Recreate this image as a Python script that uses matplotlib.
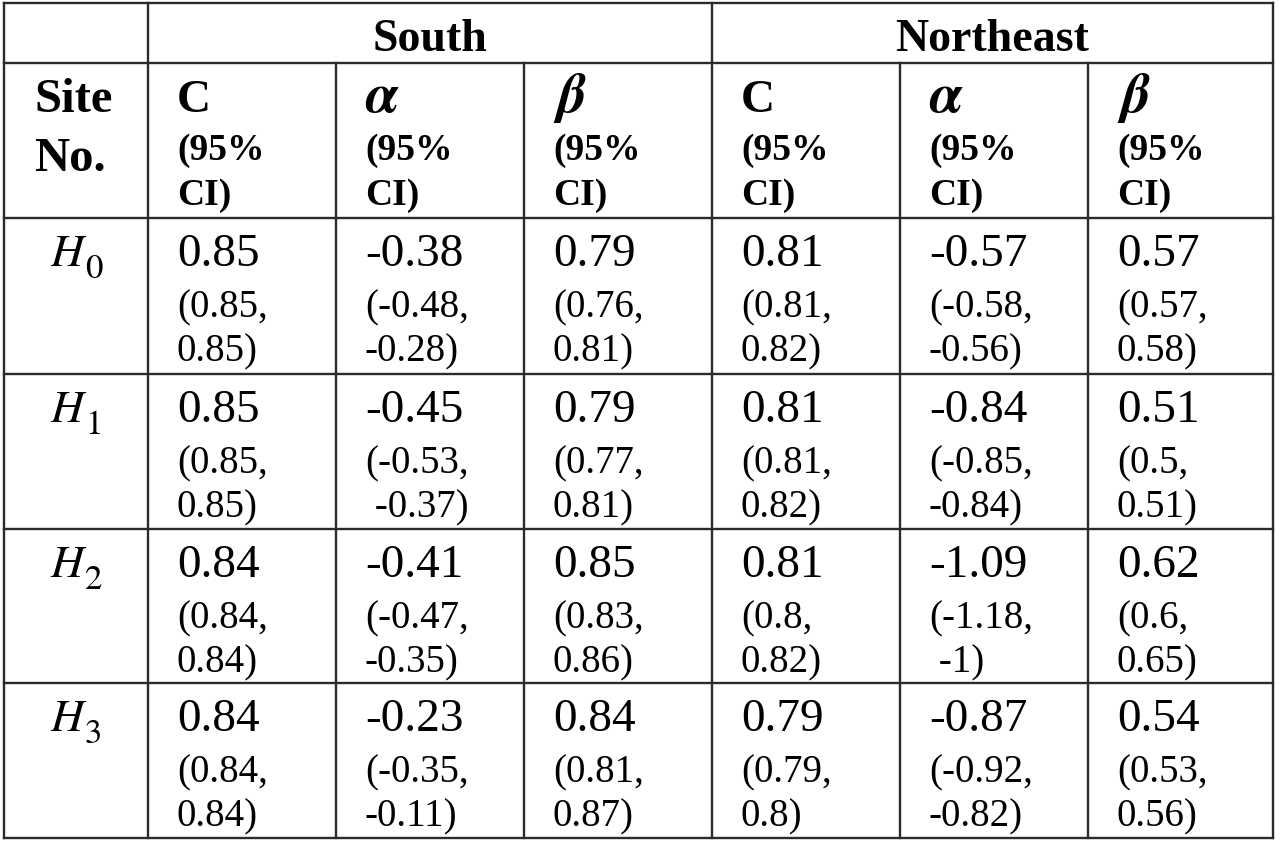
import matplotlib.pyplot as plt

plt.rcParams['font.family'] = ['Liberation Serif', 'DejaVu Serif']
plt.rcParams['mathtext.fontset'] = 'stix'

# data
regions = ['South', 'Northeast']
params = ['C', r'$\boldsymbol{\alpha}$', r'$\boldsymbol{\beta}$']
param_size = [34, 41, 41]
site_letter = 'H'
site_index = ['0', '1', '2', '3']

# per site: [C, alpha, beta] for South then Northeast
estimates = [
    [0.85, -0.38, 0.79, 0.81, -0.57, 0.57],
    [0.85, -0.45, 0.79, 0.81, -0.84, 0.51],
    [0.84, -0.41, 0.85, 0.81, -1.09, 0.62],
    [0.84, -0.23, 0.84, 0.79, -0.87, 0.54],
]
ci_low = [
    [0.85, -0.48, 0.76, 0.81, -0.58, 0.57],
    [0.85, -0.53, 0.77, 0.81, -0.85, 0.5],
    [0.84, -0.47, 0.83, 0.8, -1.18, 0.6],
    [0.84, -0.35, 0.81, 0.79, -0.92, 0.53],
]
ci_high = [
    [0.85, -0.28, 0.81, 0.82, -0.56, 0.58],
    [0.85, -0.37, 0.81, 0.82, -0.84, 0.51],
    [0.84, -0.35, 0.86, 0.82, -1, 0.65],
    [0.84, -0.11, 0.87, 0.8, -0.82, 0.56],
]
# a couple of upper bounds are indented by a space in the original
indent_high = {(1, 1), (2, 4)}

# layout in pixels
col_edges = [4, 148, 336, 524, 712, 900, 1088, 1273]
row_edges = [3, 63, 218, 374, 529, 683, 838]
pad = 29
line_col = '#2b2b2b'
lw = 1.7

fig = plt.figure(figsize=(12.8, 8.44), dpi=100)
ax = fig.add_axes([0, 0, 1, 1])
ax.set_xlim(0, 1280)
ax.set_ylim(844, 0)
ax.axis('off')

# grid lines
top, bot = row_edges[0], row_edges[-1]
for i, x in enumerate(col_edges):
    y0 = top if i in (0, 1, 4, 7) else row_edges[1]
    ax.plot([x, x], [y0, bot], color=line_col, lw=lw, solid_capstyle='projecting')
for y in row_edges:
    ax.plot([col_edges[0], col_edges[-1]], [y, y], color=line_col, lw=lw,
            solid_capstyle='projecting')

# region header
for k, reg in enumerate(regions):
    xc = (col_edges[1 + 3 * k] + col_edges[4 + 3 * k]) / 2
    ax.text(xc, row_edges[0] + 48, reg, ha='center', va='baseline',
            fontsize=33, fontweight='bold')

# parameter header
h0 = row_edges[1]
ax.text(34, h0 + 49, 'Site', ha='left', va='baseline', fontsize=35, fontweight='bold')
ax.text(34, h0 + 108, 'No.', ha='left', va='baseline', fontsize=35, fontweight='bold')
for c in range(6):
    x = col_edges[1 + c] + pad
    ax.text(x, h0 + 49, params[c % 3], ha='left', va='baseline',
            fontsize=param_size[c % 3], fontweight='bold')
    ax.text(x, h0 + 97, '(95%', ha='left', va='baseline', fontsize=27, fontweight='bold')
    ax.text(x, h0 + 142, 'CI)', ha='left', va='baseline', fontsize=27, fontweight='bold')

# body
xc0 = (col_edges[0] + col_edges[1]) / 2
for r, idx in enumerate(site_index):
    y0 = row_edges[2 + r]
    ax.text(xc0 + 7, y0 + 48, site_letter, ha='right', va='baseline',
            fontsize=33, family='STIXGeneral', style='italic')
    ax.text(xc0 + 9, y0 + 60, idx, ha='left', va='baseline',
            fontsize=25, family='STIXGeneral')
    for c in range(6):
        x = col_edges[1 + c] + pad
        ax.text(x, y0 + 48, f'{estimates[r][c]:g}', ha='left', va='baseline', fontsize=34)
        ax.text(x, y0 + 99, f'({ci_low[r][c]:g},', ha='left', va='baseline', fontsize=28)
        hi = f'{ci_high[r][c]:g})'
        if (r, c) in indent_high:
            hi = ' ' + hi
        ax.text(x, y0 + 143, hi, ha='left', va='baseline', fontsize=28)

fig.savefig('out.png', dpi=100, facecolor='white')
